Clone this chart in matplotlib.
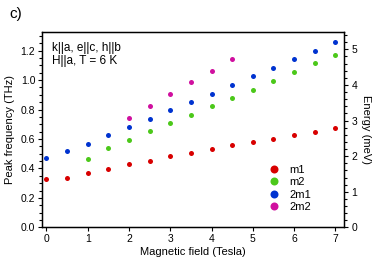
import matplotlib
matplotlib.use("Agg")
import matplotlib.pyplot as plt
from matplotlib.ticker import MultipleLocator

plt.rcParams["font.family"] = ["Liberation Sans", "DejaVu Sans"]

THZ_TO_MEV = 4.1357

field_m1 = [0, 0.5, 1, 1.5, 2, 2.5, 3, 3.5, 4, 4.5, 5, 5.5, 6, 6.5, 7]
freq_m1 = [0.326, 0.335, 0.367, 0.398, 0.430, 0.452, 0.482, 0.507, 0.529,
           0.557, 0.577, 0.602, 0.625, 0.649, 0.674]

field_m2 = [1, 1.5, 2, 2.5, 3, 3.5, 4, 4.5, 5, 5.5, 6, 6.5, 7]
freq_m2 = [0.464, 0.538, 0.595, 0.652, 0.707, 0.765, 0.821, 0.878, 0.934,
           0.995, 1.054, 1.113, 1.168]

field_2m1 = [0, 0.5, 1, 1.5, 2, 2.5, 3, 3.5, 4, 4.5, 5, 5.5, 6, 6.5, 7]
freq_2m1 = [0.470, 0.520, 0.566, 0.629, 0.681, 0.735, 0.796, 0.851, 0.905,
            0.966, 1.025, 1.081, 1.141, 1.199, 1.258]

field_2m2 = [2, 2.5, 3, 3.5, 4, 4.5]
freq_2m2 = [0.740, 0.823, 0.903, 0.984, 1.061, 1.145]

series = [
    ("m1", field_m1, freq_m1, "#d80000"),
    ("m2", field_m2, freq_m2, "#4cc81a"),
    ("2m1", field_2m1, freq_2m1, "#0033d0"),
    ("2m2", field_2m2, freq_2m2, "#d0109f"),
]

fig = plt.figure(figsize=(3.74, 2.59), dpi=100)
ax = fig.add_axes([0.113, 0.122, 0.808, 0.753])

for name, x, y, c in series:
    ax.plot(x, y, "o", color=c, markersize=3.6, markeredgewidth=0, label=name)

ax.set_xlim(-0.1, 7.22)
ax.set_ylim(0, 1.324)
ax.xaxis.set_major_locator(MultipleLocator(1))
ax.yaxis.set_major_locator(MultipleLocator(0.2))
ax.yaxis.set_minor_locator(MultipleLocator(0.05))
ax.yaxis.set_major_formatter(matplotlib.ticker.FormatStrFormatter("%.1f"))
ax.tick_params(axis="both", labelsize=7.5, width=0.8, length=3, pad=2)
ax.tick_params(axis="y", which="minor", length=2, width=0.8)
for s in ax.spines.values():
    s.set_linewidth(1.0)

ax.set_xlabel("Magnetic field (Tesla)", fontsize=8, labelpad=2)
ax.set_ylabel("Peak frequency (THz)", fontsize=8, labelpad=4)

ax2 = ax.twinx()
ax2.set_ylim(0, 1.324 * THZ_TO_MEV)
ax2.yaxis.set_major_locator(MultipleLocator(1))
ax2.yaxis.set_minor_locator(MultipleLocator(0.2))
ax2.tick_params(axis="y", labelsize=7.5, width=0.8, length=3, pad=2)
ax2.tick_params(axis="y", which="minor", length=2, width=0.8)
ax2.set_ylabel("Energy (meV)", fontsize=8, rotation=270, labelpad=10)

ax.text(0.032, 0.95, "k||a, e||c, h||b\nH||a, T = 6 K", transform=ax.transAxes,
        fontsize=8.5, va="top", ha="left", linespacing=1.05)

ax.legend(loc="lower right", bbox_to_anchor=(0.915, 0.04), frameon=False,
          fontsize=8, markerscale=1.6, handletextpad=0.4, labelspacing=0.2,
          borderpad=0.2)

fig.text(0.025, 0.945, "c)", fontsize=11, ha="left", va="center")

plt.savefig("out.png", dpi=100)
